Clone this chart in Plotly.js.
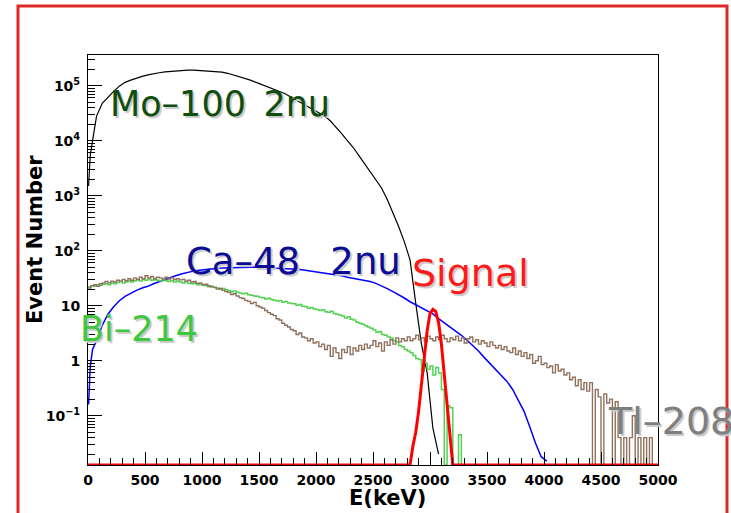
<!DOCTYPE html>
<html>
<head>
<meta charset="utf-8">
<script src="https://cdn.plot.ly/plotly-3.0.1.min.js"></script>
<style>html,body{margin:0;padding:0;background:#fff;}#chart{width:731px;height:513px;}</style>
</head>
<body>
<div id="chart"></div>
<script>
// ---------------- data ----------------
// Mo-100 2nu (black): energy (keV) and counts
const moE = [5,20,40,75,125,175,225,275,325,375,425,475,525,575,625,675,725,775,825,875,925,975,1025,1075,1125,1175,1225,1275,1325,1375,1425,1475,1525,1575,1625,1675,1725,1775,1825,1875,1925,1975,2025,2075,2125,2175,2225,2275,2325,2375,2425,2475,2525,2575,2625,2675,2725,2775,2825,2875,2925,2975,3025,3075];
const moN = [1500,5500,10000,28000,48000,63000,79000,98000,115000,126000,138000,148000,157000,166000,172000,178000,182000,186000,190000,192000,192000,189000,186000,183000,180000,176000,168000,157000,146000,135000,126000,115000,105000,95000,87000,79000,72000,63000,55000,48000,42000,36500,32000,28000,23000,18000,13500,10000,7600,5400,3800,2750,1950,1380,850,490,275,145,68,11,2.0,0.6,0.06,0.02];

// Ca-48 2nu (blue)
const caE = [5,20,40,75,125,175,225,275,325,375,425,475,525,575,625,675,725,775,825,875,925,975,1025,1075,1125,1175,1225,1275,1325,1375,1425,1475,1525,1575,1625,1675,1725,1775,1825,1875,1925,1975,2025,2075,2125,2175,2225,2275,2325,2375,2425,2475,2525,2575,2625,2675,2725,2775,2825,2875,2925,2975,3025,3075,3125,3175,3225,3275,3325,3375,3425,3475,3525,3575,3625,3675,3725,3775,3825,3875,3925,3975,4025];
const caN = [0.16,0.8,1.6,2.3,4.4,7.0,9.6,12.3,14.8,17.0,19.0,21.0,22.5,25,27.5,30,33,35.5,38,40.5,42.5,44,45.5,46.5,47.5,48.5,49,49.5,50,50,50,50,49.5,49.3,49,48.5,48,47,46,45,43.5,42,41,39.5,38,36.5,35,33,31.5,30.5,29.5,27.5,25.5,23,20.5,18,16,13.8,11.8,10.4,9.1,8.0,7.1,5.8,4.9,4.2,3.5,2.9,2.35,1.9,1.5,1.15,0.9,0.7,0.55,0.42,0.3,0.19,0.12,0.063,0.032,0.018,0.015];

// Bi-214 (green), 25 keV bins starting at 0 keV
const biN = [
 22,23,22.5,24,23.5,24.5,25,24,
 26,25,26.5,27.5,26,27,28,27,
 28.5,29.5,28,30,29,30.5,29,30,
 29,28,29.5,28.5,27.5,28.5,27,28,
 27,26,27,25.5,25,25.5,24,24.5,
 23.5,23,22,22.5,21.5,21,20,20.5,
 19.5,19,18,18.5,17.5,17,16.5,16.8,
 15.8,15.5,15,14.8,14.2,14,13.3,13.6,
 13,12.6,12.2,12.5,11.6,11.9,11.2,11,
 10.8,10.2,10.5,9.8,9.6,9.0,9.3,8.7,
 8.5,8.2,8.4,7.8,7.6,7.9,7.2,7.0,
 6.8,6.5,6.0,6.3,5.7,5.5,5.0,4.8,
 4.6,4.3,4.1,3.9,3.6,3.3,3.4,3.0,
 2.9,2.7,2.6,2.3,2.2,1.9,1.8,1.6,
 1.5,1.4,1.25,1.1,1.05,0.65,0.9,0.7,
 0.8,0.55,0.75,0.6,0.3,0,0.15,0.14,
 0,0,0.045,0];

// Tl-208 (brown), 25 keV bins starting at 0 keV
const tlN = [
 21,23,24,22.5,25,26,27.5,26,
 28,27,29,28,30,28.5,31,29,
 32,30,33,31,35,32,34,31,
 33,32,31,33,30.5,32,30,31,
 29.5,30,28,29,27,27.5,25.5,26,
 24,24.5,23,22,21.5,20,20.5,19,
 18,17.5,16,16.5,15,14,13.5,12.5,
 12,11,11.5,10,9.5,9,8.2,7.5,
 7.0,6.6,5.8,5.5,4.8,4.4,4.1,3.7,
 3.5,3.0,3.2,2.7,2.6,2.3,2.5,2.1,
 2.2,1.8,2.0,1.6,1.9,1.2,1.7,1.4,
 1.1,1.6,1.4,1.8,1.3,1.7,1.5,1.9,
 1.6,2.0,1.7,1.9,2.3,1.8,2.1,1.5,
 2.2,1.9,2.4,2.0,2.6,2.2,2.5,2.3,
 2.7,2.3,2.5,2.9,2.4,2.6,2.2,2.8,
 2.5,2.3,2.7,2.4,2.9,2.5,2.2,2.6,
 2.4,2.8,2.3,2.6,2.1,2.5,2.7,2.2,
 2.4,2.0,2.3,2.1,1.8,2.2,1.9,1.7,
 1.9,1.6,1.8,1.5,1.4,1.7,1.3,1.5,
 1.2,1.4,1.1,1.3,0.9,1.0,1.2,0.85,
 0.9,0.75,0.8,0.6,0.85,0.65,0.7,0.55,
 0.6,0.45,0.5,0.35,0.45,0.3,0.4,0.28,
 0.4,0,0.3,0.22,0,0.25,0.17,0.2,
 0,0.18,0.04,0,0.04,0,0.04,0.1,
 0,0.04,0,0.04,0,0.04,0,0];

// Signal (red), 25 keV points starting at 2825 keV
const sigStart = 2825;
const sigN = [0,0.028,0.05,0.12,0.35,1.3,3.5,7.2,8.6,7.9,5.0,2.0,0.6,0.16,0.05,0];

const xTicks = [0,500,1000,1500,2000,2500,3000,3500,4000,4500,5000];
const yTicks = [0.1,1,10,100,1000,10000,100000];
const yTickText = ['10<sup>\u22121</sup>','1','10','10<sup>2</sup>','10<sup>3</sup>','10<sup>4</sup>','10<sup>5</sup>'];

// ---------------- build ----------------
const yLogMin = -1.896, yLogMax = 5.558;
const floorV = Math.pow(10, yLogMin);
const binW = 25, nBins = 200, xMax = 5000;
const fl = v => (v > 0 ? v : floorV);

function histTrace(vals, color, width) {
  const x = [0], y = [];
  const full = [];
  for (let i = 0; i < nBins; i++) full.push(i < vals.length ? vals[i] : 0);
  y.push(fl(full[0]));
  for (let i = 0; i < nBins; i++) { x.push(binW/2 + i*binW); y.push(fl(full[i])); }
  x.push(xMax); y.push(fl(full[nBins-1]));
  return {x, y, type:'scatter', mode:'lines', line:{color, width, shape:'hvh'}, hoverinfo:'skip'};
}

const sigX = [0], sigY = [floorV];
sigN.forEach((v,i) => { sigX.push(sigStart + i*binW); sigY.push(fl(v)); });
sigX.push(xMax); sigY.push(floorV);

const traces = [
  {x: moE, y: moN, type:'scatter', mode:'lines', line:{color:'#000000', width:1.2}, hoverinfo:'skip'},
  {x: caE, y: caN, type:'scatter', mode:'lines', line:{color:'#0000ff', width:1.5}, hoverinfo:'skip'},
  histTrace(biN, '#55d155', 1.5),
  histTrace(tlN, '#8f725e', 1.4),
  {x: sigX, y: sigY, type:'scatter', mode:'lines', line:{color:'#ff0000', width:3}, hoverinfo:'skip'}
];

const yMinor = [];
for (let d = -2; d <= 5; d++) for (let m = 2; m <= 9; m++) {
  const v = m*Math.pow(10,d);
  if (Math.log10(v) > yLogMin && Math.log10(v) < yLogMax) yMinor.push(v);
}

const L = 88, R = 658, T = 55, B = 465, W = 731, H = 513;
const px = v => (v - L)/(R - L);
const py = v => (B - v)/(B - T);
const shadow = '2px 2px 1px #c8c8c8';
function label(text, x, yc, size, color) {
  return {text, xref:'paper', yref:'paper', x:px(x), y:py(yc), xanchor:'left', yanchor:'middle',
    showarrow:false, font:{family:'DejaVu Sans', size, color, shadow}};
}

const layout = {
  width: W, height: H,
  margin: {l: L, r: W - R, t: T, b: H - B, pad: 0},
  paper_bgcolor:'#ffffff', plot_bgcolor:'#ffffff',
  showlegend:false,
  font:{family:'DejaVu Sans', color:'#000'},
  xaxis:{
    type:'linear', range:[0,5000], showgrid:false, zeroline:false,
    showline:true, mirror:true, linecolor:'#000', linewidth:1,
    ticks:'inside', ticklen:13, tickwidth:1, tickcolor:'#000',
    tickmode:'array', tickvals:xTicks, ticktext:xTicks.map(String),
    ticklabelstandoff:2,
    tickfont:{family:'DejaVu Sans', size:14, weight:'bold', color:'#000'},
    minor:{dtick:100, tick0:0, ticks:'inside', ticklen:7, tickwidth:1, tickcolor:'#000', showgrid:false}
  },
  yaxis:{
    type:'log', range:[yLogMin, yLogMax], showgrid:false, zeroline:false,
    showline:true, mirror:true, linecolor:'#000', linewidth:1,
    ticks:'inside', ticklen:14, tickwidth:1, tickcolor:'#000',
    tickmode:'array', tickvals:yTicks, ticktext:yTickText,
    ticklabelstandoff:4,
    tickfont:{family:'DejaVu Sans', size:14, weight:'bold', color:'#000'},
    minor:{tickmode:'array', tickvals:yMinor, ticks:'inside', ticklen:7, tickwidth:1, tickcolor:'#000', showgrid:false}
  },
  annotations:[
    {text:'Event Number', xref:'paper', yref:'paper', x:px(35), y:py(240), xanchor:'center', yanchor:'middle',
     textangle:-90, showarrow:false, font:{family:'DejaVu Sans', size:21, weight:'bold', color:'#000'}},
    {text:'E(keV)', xref:'paper', yref:'paper', x:px(387), y:py(498), xanchor:'center', yanchor:'middle',
     showarrow:false, font:{family:'DejaVu Sans', size:21, weight:'bold', color:'#000'}},
    label('Mo\u2013100\u20022nu', 108, 104, 35, '#0f4d0f'),
    label('Ca\u201348\u2002 2nu', 184, 261, 37, '#0b0b96'),
    label('Signal', 410, 273, 38, '#ff1a1a'),
    label('Bi\u2013214', 78, 329, 35, '#3fc83f'),
    label('Tl\u2013208', 606, 421, 38, '#7f7f7f')
  ],
  shapes:[
    {type:'rect', xref:'paper', yref:'paper', x0:px(18), x1:px(727), y0:py(560), y1:py(6),
     line:{color:'#e02828', width:3}, fillcolor:'rgba(0,0,0,0)', layer:'above'}
  ]
};

Plotly.newPlot('chart', traces, layout, {staticPlot:true, displayModeBar:false});
</script>
</body>
</html>
